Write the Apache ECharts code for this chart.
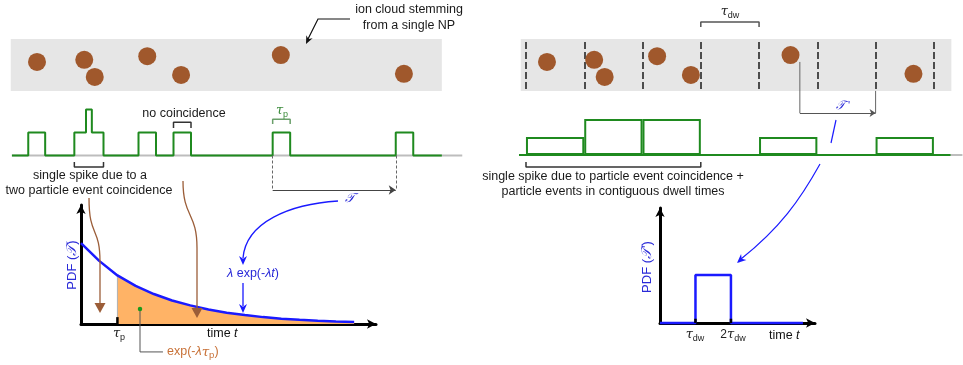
<!DOCTYPE html>
<html>
<head>
<meta charset="utf-8">
<script src="https://cdn.jsdelivr.net/npm/echarts@6/dist/echarts.min.js"></script>
<style>html,body{margin:0;padding:0;background:#fff}#c{width:963px;height:365px}</style>
</head>
<body>
<div id="c"></div>
<script>
// ---------- data (time in units of the dwell time tau_dw) ----------
const particleTimes  = [0.36, 1.17, 1.35, 2.25, 2.83, 4.54, 6.65];
const particleLevels = [0.56, 0.60, 0.27, 0.67, 0.31, 0.69, 0.33];
const bandRange = [-0.09, 7.30];
// left: transient signal (each particle gives a pulse of width tau_p)
const leftSignalT     = [-0.07, 0.21, 0.50, 1.00, 1.20, 1.30, 1.50, 2.10, 2.40, 2.70, 3.00, 4.40, 4.70, 6.51, 6.81, 7.30];
const leftSignalLevel = [0, 1, 0, 1, 2, 1, 0, 1, 0, 1, 0, 1, 0, 1, 0, 0];
// right: counts per dwell time
const dwellBoundaries = [0, 1, 2, 3, 4, 5, 6, 7];
const dwellCounts     = [1, 2, 2, 0, 1, 0, 1];
// left PDF: lambda exp(-lambda t), t in units of tau_p
const pdfT      = [0, 0.5, 1, 1.5, 2, 2.5, 3, 3.5, 4, 4.5, 5, 5.5, 6, 6.5, 7, 7.5];
const pdfValues = [1.00, 0.78, 0.60, 0.47, 0.37, 0.29, 0.23, 0.18, 0.14, 0.11, 0.085, 0.066, 0.052, 0.040, 0.032, 0.025];
const tauP = 1.0;
// right PDF: uniform between tau_dw and 2 tau_dw
const rectPdfT      = [0, 1, 1, 2, 2, 4.03];
const rectPdfValues = [0, 0, 1, 1, 0, 0];
const rectTicks = [1, 2];

// ---------- styles ----------
const FONT = 'Liberation Sans, Arial, Helvetica, sans-serif';
const GREEN = '#1f8a1f', BROWN = '#a0582c', BLUE = '#1a1aff', BLUET = '#2a2ad8';
const ARROWB = '#9b5d38', ORANGE = '#ffb366';

const zip = (a, b) => a.map((v, i) => [v, b[i]]);
const hidden = (o) => Object.assign({ type: 'value', show: false }, o);

function txt(x, y, text, o) {
  o = o || {};
  return {
    type: 'text', x: x, y: y, rotation: o.rot || 0, z: 100, silent: true,
    style: {
      text: text, fill: o.fill || '#1a1a1a', font: (o.size || 12) + 'px ' + FONT,
      align: o.align || 'center', verticalAlign: 'middle', rich: o.rich
    }
  };
}
function richSet(color, size) {
  size = size || 12;
  return {
    n: { fontSize: size, fontFamily: FONT, fill: color },
    i: { fontSize: size, fontFamily: FONT, fontStyle: 'italic', fill: color },
    g: { fontSize: size + 1, fontFamily: 'DejaVu Serif, serif', fontStyle: 'italic', fill: color },
    s: { fontSize: size - 3, fontFamily: FONT, fill: color, padding: [7, 0, 0, 0] },
    c: { fontSize: size + 1, fontFamily: 'DejaVu Serif, Noto Sans, serif', fontStyle: 'italic', fill: color }
  };
}
function head(x, y, ang, color, L, Wd) {
  L = L || 9; Wd = Wd || 4.5;
  const ca = Math.cos(ang), sa = Math.sin(ang);
  const bx = x - ca * L, by = y - sa * L;
  const nx = -sa, ny = ca;
  return { type: 'polygon', z: 90, silent: true,
    shape: { points: [[x, y], [bx + nx * Wd, by + ny * Wd], [x - ca * L * 0.7, y - sa * L * 0.7], [bx - nx * Wd, by - ny * Wd]] },
    style: { fill: color } };
}
function tri(x, y, color) {
  return { type: 'polygon', z: 90, silent: true,
    shape: { points: [[x - 5.5, y - 10], [x + 5.5, y - 10], [x, y]] }, style: { fill: color } };
}
function bez(p0, c1, c2, p1, color, w) {
  return { type: 'bezierCurve', z: 90, silent: true,
    shape: { x1: p0[0], y1: p0[1], cpx1: c1[0], cpy1: c1[1], cpx2: c2[0], cpy2: c2[1], x2: p1[0], y2: p1[1] },
    style: { stroke: color, lineWidth: w || 1.3, fill: null } };
}
function seg(pts, color, w) {
  return { type: 'polyline', z: 90, silent: true, shape: { points: pts }, style: { stroke: color, lineWidth: w || 1.2, fill: null } };
}
function lineS(xi, data, color, w, extra) {
  return Object.assign({ type: 'line', xAxisIndex: xi, yAxisIndex: xi, data: data, symbol: 'none', silent: true,
    lineStyle: { color: color, width: w }, clip: false, z: 3 }, extra || {});
}
function bracket(x0, x1, yBase, yTip) {
  return [[x0, yBase], [x0, yTip], [x1, yTip], [x1, yBase]];
}

const particles = zip(particleTimes, particleLevels);
const bandArea = { silent: true, itemStyle: { color: '#e6e6e6' }, data: [[{ coord: [bandRange[0], 0] }, { coord: [bandRange[1], 1] }]] };

const pdfData = zip(pdfT, pdfValues);
const shaded = pdfData.filter(d => d[0] >= tauP);
const valAt = (t) => pdfValues[pdfT.indexOf(t)];

const axisShow = (o) => Object.assign({
  type: 'value', show: true,
  axisLine: { show: true, onZero: true, symbol: ['none', 'arrow'], symbolSize: [7, 9], lineStyle: { color: '#000', width: 3 } },
  axisTick: { show: false }, axisLabel: { show: false }, splitLine: { show: false }
}, o);

const option = {
  animation: false,
  grid: [
    { left: 10.17, top: 13, width: 455, height: 78 },      // 0 left band
    { left: 10.17, top: 98, width: 455, height: 103.5 },   // 1 left signal
    { left: 520.17, top: 13, width: 443.3, height: 78 },   // 2 right band
    { left: 520.17, top: 38, width: 443.3, height: 156.6 },// 3 right signal
    { left: 81, top: 205, width: 295, height: 119 },       // 4 left pdf
    { left: 660, top: 208, width: 155, height: 115 }       // 5 right pdf
  ],
  xAxis: [
    hidden({ gridIndex: 0, min: -0.1, max: 7.7 }),
    hidden({ gridIndex: 1, min: -0.1, max: 7.7 }),
    hidden({ gridIndex: 2, min: -0.1, max: 7.5 }),
    hidden({ gridIndex: 3, min: -0.1, max: 7.5 }),
    axisShow({ gridIndex: 4, min: 0, max: 8.1 }),
    axisShow({ gridIndex: 5, min: 0, max: 4.37 })
  ],
  yAxis: [
    hidden({ gridIndex: 0, min: 0, max: 1.5 }),
    hidden({ gridIndex: 1, min: -2, max: 2.5 }),
    hidden({ gridIndex: 2, min: 0, max: 1.5 }),
    hidden({ gridIndex: 3, min: -2.2, max: 6.5 }),
    axisShow({ gridIndex: 4, min: 0, max: 1.47 }),
    axisShow({ gridIndex: 5, min: 0, max: 2.4 })
  ],
  series: [
    // ---- bands with particles ----
    { type: 'scatter', xAxisIndex: 0, yAxisIndex: 0, data: particles, symbolSize: 18, silent: true, z: 5,
      itemStyle: { color: BROWN, opacity: 1 }, markArea: bandArea },
    { type: 'scatter', xAxisIndex: 2, yAxisIndex: 2, data: particles, symbolSize: 18, silent: true, z: 5,
      itemStyle: { color: BROWN, opacity: 1 }, markArea: bandArea,
      markLine: { silent: true, symbol: 'none', label: { show: false },
        lineStyle: { color: '#1a1a1a', width: 1.5, type: [7, 3] },
        data: dwellBoundaries.map(b => [{ coord: [b, 0.04] }, { coord: [b, 0.96] }]) } },
    // tau_dw bracket
    lineS(2, bracket(dwellBoundaries[3], dwellBoundaries[4], 1.23, 1.327), '#555', 1.5),

    // ---- left signal ----
    lineS(1, [[-0.07, 0], [7.65, 0]], '#bdbdbd', 2, { z: 2 }),
    lineS(1, zip(leftSignalT, leftSignalLevel), GREEN, 2, { step: 'end', z: 4 }),
    lineS(1, bracket(4.40, 4.70, 1.37, 1.58), '#6a9f6a', 1.5),
    lineS(1, bracket(2.70, 3.00, 1.2, 1.45), '#333', 1.5),
    lineS(1, bracket(1.00, 1.50, -0.28, -0.5), '#333', 1.5),
    { type: 'line', xAxisIndex: 1, yAxisIndex: 1, data: [], silent: true,
      markLine: { silent: true, label: { show: false }, symbolSize: 7,
        data: [
          [{ coord: [4.40, 0], symbol: 'none' }, { coord: [4.40, -1.5], symbol: 'none', lineStyle: { type: [3, 2], color: '#666', width: 1 } }],
          [{ coord: [6.51, 0], symbol: 'none' }, { coord: [6.51, -1.5], symbol: 'none', lineStyle: { type: [3, 2], color: '#666', width: 1 } }],
          [{ coord: [4.40, -1.5], symbol: 'none' }, { coord: [6.51, -1.5], symbol: 'arrow', lineStyle: { type: 'solid', color: '#444', width: 1.2 } }]
        ] } },

    // ---- right signal ----
    lineS(3, [[-0.394, 0], [7.49, 0]], '#bdbdbd', 2, { z: 2 }),
    lineS(3, [[-0.206, 0], [7.286, 0]], GREEN, 2, { z: 3 }),
    { type: 'bar', xAxisIndex: 3, yAxisIndex: 3, silent: true, z: 4, barWidth: 58.33,
      data: dwellCounts.map((c, i) => [(dwellBoundaries[i] + dwellBoundaries[i + 1]) / 2, c]),
      itemStyle: { color: 'rgba(0,0,0,0)', borderColor: GREEN, borderWidth: 2 } },
    lineS(3, bracket(dwellBoundaries[0], dwellBoundaries[3], -0.39, -0.67), '#333', 1.5),
    lineS(3, [[4.70, 5.17], [4.70, 2.33]], '#666', 1),
    lineS(3, [[6.0, 3.56], [6.0, 2.33]], '#666', 1),
    { type: 'line', xAxisIndex: 3, yAxisIndex: 3, data: [], silent: true,
      markLine: { silent: true, label: { show: false }, symbolSize: 6,
        data: [[{ coord: [4.70, 2.33], symbol: 'none' }, { coord: [6.0, 2.33], symbol: 'arrow', lineStyle: { type: 'solid', color: '#555', width: 1 } }]] } },

    // ---- left PDF ----
    { type: 'line', xAxisIndex: 4, yAxisIndex: 4, data: shaded, symbol: 'none', silent: true, z: 2,
      lineStyle: { width: 0 }, areaStyle: { color: ORANGE, opacity: 1 } },
    lineS(4, [[tauP, 0], [tauP, valAt(tauP)]], '#b0b0b0', 1, { z: 3 }),
    lineS(4, pdfData, BLUE, 2.5, { z: 4, clip: true }),
    lineS(4, [[tauP, 0], [tauP, 0.085]], '#000', 2.5, { z: 5 }),
    lineS(4, [[1.62, 0.185], [1.62, -0.345], [2.25, -0.345]], '#555', 1, { z: 5 }),
    { type: 'scatter', xAxisIndex: 4, yAxisIndex: 4, data: [[1.62, 0.185]], symbolSize: 4.5, silent: true, z: 6,
      itemStyle: { color: '#1c9a1c', opacity: 1 } },

    // ---- right PDF ----
    lineS(5, zip(rectPdfT, rectPdfValues), BLUE, 2.5, { z: 4 }),
    lineS(5, [[rectTicks[0], 0], [rectTicks[0], 0.09]], '#000', 2.5, { z: 5 }),
    lineS(5, [[rectTicks[1], 0], [rectTicks[1], 0.09]], '#000', 2.5, { z: 5 })
  ],
  graphic: [
    // ion cloud annotation
    txt(409, 10, 'ion cloud stemming', { size: 12.5 }),
    txt(409, 26, 'from a single NP', { size: 12.5 }),
    seg([[350, 19], [318, 19], [308, 39]], '#111', 1.2),
    head(306, 44, Math.atan2(25, -12), '#111', 8, 3.5),

    txt(184, 114, 'no coincidence', { size: 12.5 }),
    txt(282, 111, '{g|τ}{s|p}', { rich: richSet('#3c8c3c', 12) }),
    txt(90, 176, 'single spike due to a', { size: 12.5 }),
    txt(89, 191, 'two particle event coincidence', { size: 12.5 }),

    // brown arrows
    bez([89, 198], [89, 238], [100, 226], [100, 262], ARROWB, 1.3),
    seg([[100, 262], [100, 303]], ARROWB, 1.3),
    tri(100, 313, ARROWB),
    bez([183, 181], [183, 218], [197, 212], [197, 248], ARROWB, 1.3),
    seg([[197, 248], [197, 308]], ARROWB, 1.3),
    tri(197, 318, ARROWB),

    // blue T annotation
    txt(350, 199, '{c|𝒯}', { rich: richSet(BLUET, 12) }),
    bez([338, 201], [290, 204], [246, 222], [243, 258], BLUE, 1.3),
    head(243, 265, Math.PI / 2, BLUE, 9, 4),
    txt(253, 274, '{i|λ}{n| exp(-}{i|λt}{n|)}', { rich: richSet(BLUET, 12.5) }),
    seg([[243, 283], [243, 306]], BLUE, 1.3),
    head(243, 313, Math.PI / 2, BLUE, 9, 4),

    // left pdf labels
    txt(72, 265, '{n|PDF (}{c|𝒯}{n|)}', { rot: Math.PI / 2, rich: richSet(BLUET, 13) }),
    txt(119, 334, '{g|τ}{s|p}', { rich: richSet('#222', 12) }),
    txt(207, 334, '{n|time }{i|t}', { align: 'left', rich: richSet('#111', 12.5) }),
    txt(167, 352, '{n|exp(-}{i|λ}{g|τ}{s|p}{n|)}', { align: 'left', rich: richSet('#c87137', 12.5) }),

    // right panel
    txt(730, 12, '{g|τ}{s|dw}', { rich: richSet('#222', 12) }),
    txt(613, 177, 'single spike due to particle event coincidence +', { size: 12.5 }),
    txt(613, 192, 'particle events in contiguous dwell times', { size: 12.5 }),
    txt(843, 106, "{c|𝒯}{n| '}", { rich: richSet(BLUET, 11) }),
    seg([[836, 120], [831, 143]], BLUE, 1.2),
    bez([820, 164], [800, 200], [780, 228], [741, 259], BLUE, 1.2),
    head(737, 263, Math.atan2(4, -4.5), BLUE, 9, 4),
    txt(647, 267, "{n|PDF (}{c|𝒯}{n|')}", { rot: Math.PI / 2, rich: richSet(BLUET, 13) }),
    txt(695, 335, '{g|τ}{s|dw}', { rich: richSet('#222', 12) }),
    txt(733, 335, '{n|2}{g|τ}{s|dw}', { rich: richSet('#222', 12) }),
    txt(769, 336, '{n|time }{i|t}', { align: 'left', rich: richSet('#111', 12.5) })
  ]
};

const chart = echarts.init(document.getElementById('c'), null, { renderer: 'canvas' });
chart.setOption(option);
</script>
</body>
</html>
